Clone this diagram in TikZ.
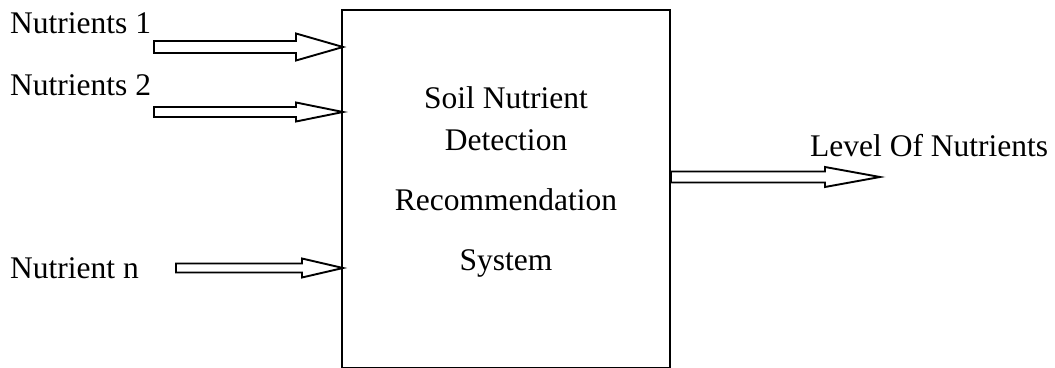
\documentclass[tikz,border=0pt]{standalone}
\usepackage{fontspec}
\setmainfont{Liberation Serif}
\begin{document}
\begin{tikzpicture}[x=1pt,y=-1pt,
  lbl/.style={inner sep=0pt,font=\fontsize{31.5}{36}\selectfont},
  barrow/.style={draw=black,line width=1.9pt,fill=white,line join=miter},
  sysbox/.style={draw=black,line width=2.4pt,fill=white}]
\useasboundingbox (0,0) rectangle (1055,367);
% main box
\draw[sysbox] (342,10) rectangle (670,368.6);
\coordinate (sysw1) at (343,47);
\coordinate (sysw2) at (343,112);
\coordinate (syswn) at (343,268);
\coordinate (syse) at (670,177);
\coordinate (outtip) at (880,177);
% block arrow macro: #1 tail x, #2 head base x, #3 tip coord, #4 y centre, #5 shaft half, #6 head half
\newcommand{\blkarrow}[6]{%
  \draw[barrow] (#1,#4-#5) -- (#2,#4-#5) -- (#2,#4-#6) -- (#3) -- (#2,#4+#6) -- (#2,#4+#5) -- (#1,#4+#5) -- cycle;}
\blkarrow{154}{296}{sysw1}{47}{6}{13.5}
\blkarrow{154}{296}{sysw2}{112}{5}{9.5}
\blkarrow{176}{302}{syswn}{268}{4.5}{9.5}
\blkarrow{671}{825}{outtip}{177}{5.5}{10}
% labels
\node[lbl,anchor=base west] (n1) at (10,33) {Nutrients 1};
\node[lbl,anchor=base west] (n2) at (10,95) {Nutrients 2};
\node[lbl,anchor=base west] (nn) at (10,278) {Nutrient n};
\node[lbl,anchor=base west] (out) at (810,156) {Level Of Nutrients};
\node[lbl,anchor=base] (t1) at (506,108) {Soil Nutrient};
\node[lbl,anchor=base] (t2) at (506,150) {Detection};
\node[lbl,anchor=base] (t3) at (506,210) {Recommendation};
\node[lbl,anchor=base] (t4) at (506,270) {System};
\end{tikzpicture}
\end{document}
